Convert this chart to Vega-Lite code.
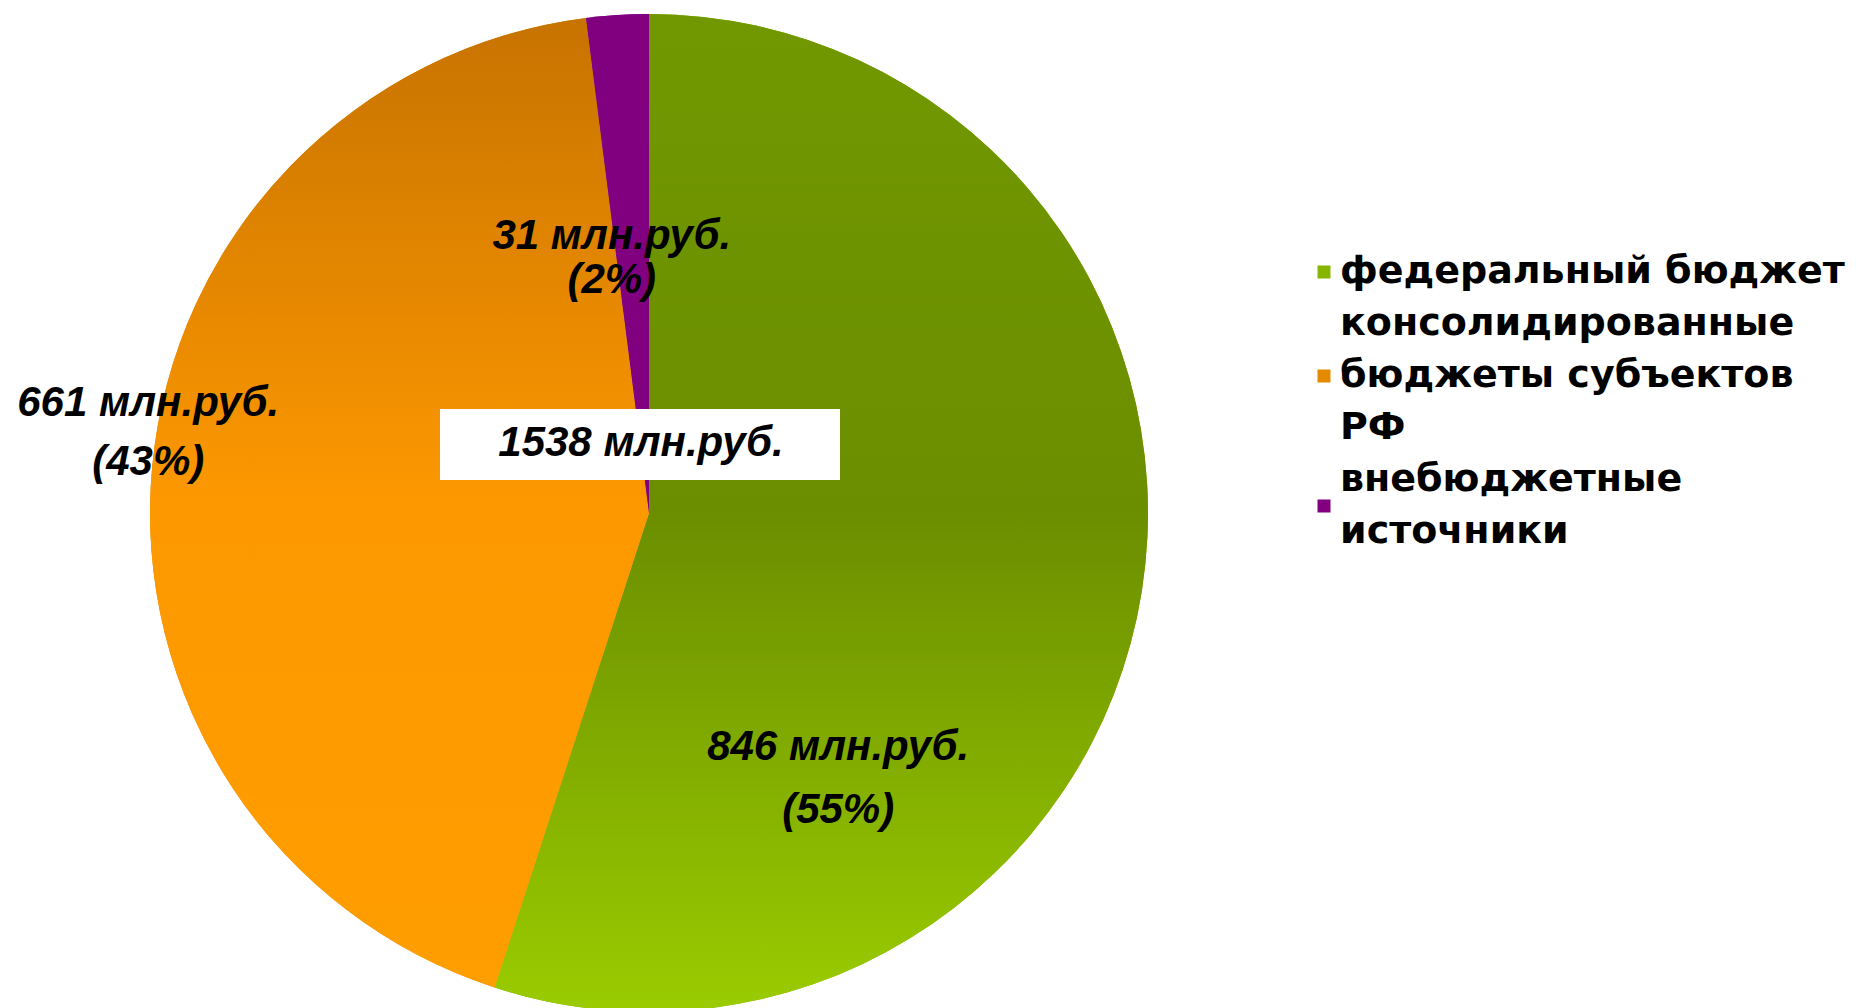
{
  "$schema": "https://vega.github.io/schema/vega-lite/v6.json",
  "autosize": {"type": "none"},
  "width": 1298,
  "height": 990,
  "padding": {"left": 0, "top": 18, "right": 558, "bottom": 0},
  "background": "white",
  "config": {
    "view": {"stroke": null},
    "style": {"guide-label": {"lineHeight": 52}}
  },
  "data": {
    "values": [
      {"source": "федеральный бюджет", "value": 846, "label": "846 млн.руб.\n(55%)"},
      {"source": "консолидированные бюджеты субъектов РФ", "value": 661, "label": "661 млн.руб.\n(43%)"},
      {"source": "внебюджетные источники", "value": 31, "label": "31 млн.руб.\n(2%)"}
    ]
  },
  "layer": [
    {
      "mark": {"type": "arc", "radius": 499},
      "encoding": {
        "theta": {"field": "value", "type": "quantitative", "stack": true},
        "order": {"field": "value", "type": "quantitative", "sort": "descending"},
        "color": {
          "field": "source",
          "type": "nominal",
          "scale": {
            "domain": ["федеральный бюджет", "консолидированные бюджеты субъектов РФ", "внебюджетные источники"],
            "range": ["#87b400", "#e38a00", "#800080"]
          },
          "legend": {
            "title": null,
            "orient": "none",
            "direction": "vertical",
            "legendX": 1305,
            "legendY": 235,
            "padding": 0,
            "rowPadding": 14,
            "symbolType": "square",
            "symbolSize": 169,
            "symbolStrokeWidth": 0,
            "labelOffset": -3,
            "labelFont": "DejaVu Sans",
            "labelFontSize": 38,
            "labelFontWeight": "bold",
            "labelColor": "#000000",
            "labelLimit": 700,
            "labelBaseline": "middle",
            "labelExpr": "datum.label == 'консолидированные бюджеты субъектов РФ' ? ['консолидированные', 'бюджеты субъектов', 'РФ'] : datum.label == 'внебюджетные источники' ? ['внебюджетные', 'источники'] : datum.label",
            "encoding": {
              "labels": {
                "dy": {
                  "condition": [
                    {"test": "datum.value === 'консолидированные бюджеты субъектов РФ'", "value": -52},
                    {"test": "datum.value === 'внебюджетные источники'", "value": -26}
                  ],
                  "value": 0
                }
              }
            }
          }
        }
      }
    },
    {
      "mark": {"type": "arc", "radius": 499},
      "encoding": {
        "theta": {"field": "value", "type": "quantitative", "stack": true},
        "order": {"field": "value", "type": "quantitative", "sort": "descending"},
        "detail": {"field": "source", "type": "nominal"},
        "color": {
          "condition": [
            {
              "test": "datum.source === 'федеральный бюджет'",
              "value": {
                "gradient": "linear", "x1": 0, "y1": 0, "x2": 0, "y2": 1,
                "stops": [
                  {"offset": 0, "color": "#719800"},
                  {"offset": 0.5, "color": "#6b8e00"},
                  {"offset": 1, "color": "#9acc00"}
                ]
              }
            },
            {
              "test": "datum.source === 'консолидированные бюджеты субъектов РФ'",
              "value": {
                "gradient": "linear", "x1": 0, "y1": 0, "x2": 0, "y2": 1,
                "stops": [
                  {"offset": 0, "color": "#c77300"},
                  {"offset": 0.5, "color": "#fd9800"},
                  {"offset": 1, "color": "#ff9e00"}
                ]
              }
            }
          ],
          "value": "#800080"
        }
      }
    },
    {
      "mark": {"type": "text", "radius": 228, "dx": -36, "dy": 198, "lineBreak": "\n", "lineHeight": 63,
               "font": "Liberation Sans", "fontSize": 42, "fontWeight": "bold", "fontStyle": "italic",
               "color": "#000000", "align": "center", "baseline": "middle"},
      "encoding": {
        "theta": {"field": "value", "type": "quantitative", "stack": true},
        "order": {"field": "value", "type": "quantitative", "sort": "descending"},
        "detail": {"field": "source", "type": "nominal"},
        "text": {"condition": {"test": "datum.source === 'федеральный бюджет'", "field": "label", "type": "nominal"}, "value": ""}
      }
    },
    {
      "mark": {"type": "text", "radius": 504, "dx": 1, "dy": -63, "lineBreak": "\n", "lineHeight": 59,
               "font": "Liberation Sans", "fontSize": 42, "fontWeight": "bold", "fontStyle": "italic",
               "color": "#000000", "align": "center", "baseline": "middle"},
      "encoding": {
        "theta": {"field": "value", "type": "quantitative", "stack": true},
        "order": {"field": "value", "type": "quantitative", "sort": "descending"},
        "detail": {"field": "source", "type": "nominal"},
        "text": {"condition": {"test": "datum.source === 'консолидированные бюджеты субъектов РФ'", "field": "label", "type": "nominal"}, "value": ""}
      }
    },
    {
      "mark": {"type": "text", "radius": 257, "dx": -21, "dy": -21, "lineBreak": "\n", "lineHeight": 44,
               "font": "Liberation Sans", "fontSize": 42, "fontWeight": "bold", "fontStyle": "italic",
               "color": "#000000", "align": "center", "baseline": "middle"},
      "encoding": {
        "theta": {"field": "value", "type": "quantitative", "stack": true},
        "order": {"field": "value", "type": "quantitative", "sort": "descending"},
        "detail": {"field": "source", "type": "nominal"},
        "text": {"condition": {"test": "datum.source === 'внебюджетные источники'", "field": "label", "type": "nominal"}, "value": ""}
      }
    },
    {
      "data": {"values": [{"total": "1538 млн.руб."}]},
      "mark": {"type": "point", "shape": "M-1.045,-0.52H0.955V-0.165H-1.045Z", "size": 160000,
               "filled": true, "color": "#ffffff", "opacity": 1, "strokeWidth": 0},
      "encoding": {}
    },
    {
      "data": {"values": [{"total": "1538 млн.руб."}]},
      "mark": {"type": "text", "dx": -8, "dy": -70,
               "font": "Liberation Sans", "fontSize": 42, "fontWeight": "bold", "fontStyle": "italic",
               "color": "#000000", "align": "center", "baseline": "middle"},
      "encoding": {"text": {"field": "total", "type": "nominal"}}
    }
  ]
}
